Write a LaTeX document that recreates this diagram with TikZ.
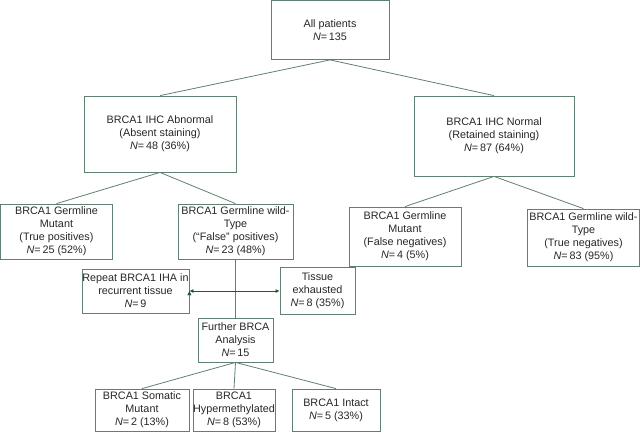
\documentclass[tikz,border=0pt]{standalone}
\usepackage{fontspec}
\setmainfont{Liberation Sans}
\usepackage{xcolor}
\usepackage{tikz}
\usetikzlibrary{arrows.meta}

\definecolor{boxline}{RGB}{96,128,112}
\definecolor{arrowgreen}{RGB}{30,90,55}
\newcommand{\nval}{\textit{N}=\,}

\begin{document}
\begin{tikzpicture}[x=1pt, y=-1pt, >=Latex, font=\fontsize{10.8}{13}\selectfont]
		\tikzstyle{box} = [draw=boxline, line width=0.8pt, align=center, inner sep=0pt, text=black!85]
		\tikzstyle{link} = [draw=boxline, line width=0.8pt]
		\tikzstyle{arrow} = [draw=arrowgreen, line width=0.8pt, <->, >={Latex[length=4pt, width=4pt]}]
		
		\useasboundingbox (0, 0) rectangle (640, 432);
		
		\node[box, minimum width=118, minimum height=59] 	at (330, 30)		(all) 	{All patients\\\nval 135};
		\node[box, minimum width=152, minimum height=76] 	at (160, 134)		(abn) 	{BRCA1 IHC Abnormal\\(Absent staining)\\\nval 48 (36\%)};
		\node[box, minimum width=160, minimum height=80] 	at (494, 136)		(norm) 	{BRCA1 IHC Normal\\(Retained staining)\\\nval 87 (64\%)};
		
		\node[box, minimum width=112, minimum height=55] 	at (56.5, 231.5)	(tpos) 	{BRCA1 Germline\\Mutant\\(True positives)\\\nval 25 (52\%)};
		\node[box, minimum width=115, minimum height=55] 	at (235.5, 231.5)	(fpos) 	{BRCA1 Germline wild-\\Type\\(“False” positives)\\\nval 23 (48\%)};
		\node[box, minimum width=112, minimum height=59] 	at (405, 236.5)		(fneg) 	{BRCA1 Germline\\Mutant\\(False negatives)\\\nval 4 (5\%)};
		\node[box, minimum width=112, minimum height=57] 	at (583.5, 237.5)	(tneg) 	{BRCA1 Germline wild-\\Type\\(True negatives)\\\nval 83 (95\%)};
		
		\node[box, minimum width=107, minimum height=44] 	at (135.5, 291)		(rep) 	{Repeat BRCA1 IHA in\\recurrent tissue\\\nval 9};
		\node[box, minimum width=75, minimum height=47] 	at (317.5, 291)		(tis) 	{Tissue\\exhausted\\\nval 8 (35\%)};
		\node[box, minimum width=75, minimum height=44] 	at (235.5, 340)		(fur) 	{Further BRCA\\Analysis\\\nval 15};
		
		\node[box, minimum width=94, minimum height=42] 	at (142, 410)		(som) 	{BRCA1 Somatic\\Mutant\\\nval 2 (13\%)};
		\node[box, minimum width=82, minimum height=42] 	at (234, 410)		(hyp) 	{BRCA1\\Hypermethylated\\\nval 8 (53\%)};
		\node[box, minimum width=88, minimum height=42] 	at (336, 410)		(int) 	{BRCA1 Intact\\\nval 5 (33\%)};
		
		\path[link]
		(all.south) 	edge	(abn.north)
		(all.south) 	edge	(norm.north)
		(abn.south) 	edge	(tpos.north)
		(abn.south) 	edge	(fpos.north)
		(norm.south) 	edge	(fneg.north)
		(norm.south) 	edge	(tneg.north)
		(fpos.south) 	edge	(fur.north)
		(fur.south) 	edge	(som.north)
		(fur.south) 	edge	(hyp.north)
		(fur.south) 	edge	(int.north);
		
		\path[arrow]
		(rep.east) 	edge	(tis.west);
	\end{tikzpicture}
\end{document}
